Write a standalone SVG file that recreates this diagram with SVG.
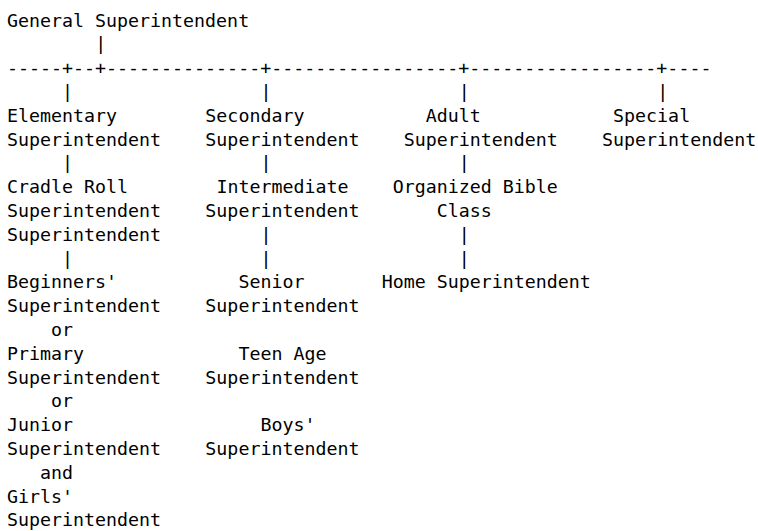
<svg xmlns="http://www.w3.org/2000/svg" width="758" height="531" viewBox="0 0 758 531">
<style>
text{font-family:"DejaVu Sans Mono","Liberation Mono",monospace;font-size:18.3px;fill:#000;white-space:pre}
</style>
<rect width="758" height="531" fill="#fff"/>
<g id="connectors">
<text x="95.16" y="50.3">|</text>
<text x="7" y="74.1">-----+--+--------------+-----------------+-----------------+----</text>
<text x="62.1" y="97.9">|</text><text x="260.46" y="97.9">|</text><text x="458.82" y="97.9">|</text><text x="657.18" y="97.9">|</text>
<text x="62.1" y="169.3">|</text><text x="260.46" y="169.3">|</text><text x="458.82" y="169.3">|</text>
<text x="260.46" y="240.7">|</text><text x="458.82" y="240.7">|</text>
<text x="62.1" y="264.5">|</text><text x="260.46" y="264.5">|</text><text x="458.82" y="264.5">|</text>
<text x="51.08" y="335.9">or</text>
<text x="51.08" y="407.3">or</text>
<text x="40.06" y="478.7">and</text>
</g>
<g id="general"><text x="7" y="26.5">General Superintendent</text></g>
<g id="elementary"><text x="7" y="121.7">Elementary</text><text x="7" y="145.5">Superintendent</text></g>
<g id="secondary"><text x="205.36" y="121.7">Secondary</text><text x="205.36" y="145.5">Superintendent</text></g>
<g id="adult"><text x="425.76" y="121.7">Adult</text><text x="403.72" y="145.5">Superintendent</text></g>
<g id="special"><text x="613.1" y="121.7">Special</text><text x="602.08" y="145.5">Superintendent</text></g>
<g id="cradle-roll"><text x="7" y="193.1">Cradle Roll</text><text x="7" y="216.9">Superintendent</text><text x="7" y="240.7">Superintendent</text></g>
<g id="intermediate"><text x="216.38" y="193.1">Intermediate</text><text x="205.36" y="216.9">Superintendent</text></g>
<g id="organized-bible-class"><text x="392.7" y="193.1">Organized Bible</text><text x="436.78" y="216.9">Class</text></g>
<g id="beginners"><text x="7" y="288.3">Beginners'</text><text x="7" y="312.1">Superintendent</text></g>
<g id="senior"><text x="238.42" y="288.3">Senior</text><text x="205.36" y="312.1">Superintendent</text></g>
<g id="home"><text x="381.68" y="288.3">Home Superintendent</text></g>
<g id="primary"><text x="7" y="359.7">Primary</text><text x="7" y="383.5">Superintendent</text></g>
<g id="teen-age"><text x="238.42" y="359.7">Teen Age</text><text x="205.36" y="383.5">Superintendent</text></g>
<g id="junior"><text x="7" y="431.1">Junior</text><text x="7" y="454.9">Superintendent</text></g>
<g id="boys"><text x="260.46" y="431.1">Boys'</text><text x="205.36" y="454.9">Superintendent</text></g>
<g id="girls"><text x="7" y="502.5">Girls'</text><text x="7" y="526.3">Superintendent</text></g>
</svg>
